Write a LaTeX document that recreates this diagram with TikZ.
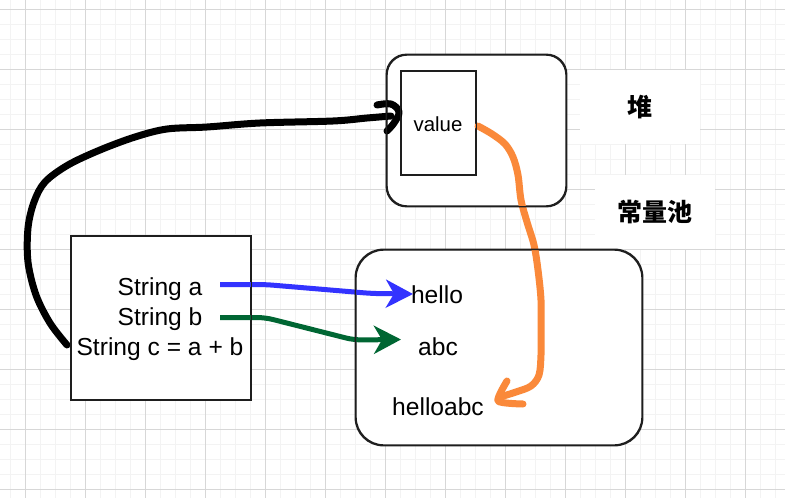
\documentclass[tikz,border=0pt]{standalone}
\usepackage{fontspec}
\setmainfont{Liberation Sans}
\newfontfamily\cjk{Noto Sans CJK SC}
\usetikzlibrary{arrows.meta}
\definecolor{gridminor}{RGB}{243,243,243}
\definecolor{gridmajor}{RGB}{215,215,215}
\definecolor{arrblue}{RGB}{51,51,255}
\definecolor{arrgreen}{RGB}{0,102,51}
\definecolor{arrorange}{RGB}{250,137,58}
\definecolor{edge}{RGB}{30,30,30}
\begin{document}
\begin{tikzpicture}[x=1pt,y=-1pt,
  box/.style={draw=edge, line width=1.4pt, fill=white, inner sep=0pt},
  txt/.style={font=\fontsize{24.6}{30}\selectfont, inner sep=0pt, anchor=base},
  smalltxt/.style={font=\fontsize{20.4}{24}\selectfont, inner sep=0pt, anchor=base},
  cjklabel/.style={font=\cjk\bfseries\fontsize{25}{30}\selectfont, inner sep=0pt},
  patch/.style={fill=white, draw=none, minimum width=120pt, minimum height=74pt, inner sep=0pt},
  ptr/.style={line width=5pt, -{Stealth[length=27pt,width=28pt,inset=8pt]}, rounded corners=8pt},
  pen/.style={line width=7pt, line cap=round, line join=round}]
\useasboundingbox (0,0) rectangle (785,498);
\fill[white] (0,0) rectangle (785,498);
% grid
\foreach \x in {10,25,...,785} \draw[gridminor, line width=1pt] (\x,0) -- (\x,498);
\foreach \y in {9,24,...,498} \draw[gridminor, line width=1pt] (0,\y) -- (785,\y);
\foreach \x in {25,85,...,785} \draw[gridmajor, line width=1pt] (\x,0) -- (\x,498);
\foreach \y in {9,69,...,498} \draw[gridmajor, line width=1pt] (0,\y) -- (785,\y);
% label patches
\node[patch] (heappatch) at (640,107) {};
\node[patch] (poolpatch) at (655,212) {};
\node[cjklabel] (heaplabel) at (640,107) {堆};
\node[cjklabel] (poollabel) at (655,212) {常量池};
% boxes
\node[box, minimum width=180pt, minimum height=164pt] (lbox) at (161,318) {};
\node[box, rounded corners=20pt, minimum width=179pt, minimum height=151pt] (hbox) at (476.5,130.5) {};
\node[box, minimum width=75pt, minimum height=104pt] (vbox) at (438.5,123) {};
\node[box, rounded corners=28pt, minimum width=286pt, minimum height=195pt] (pbox) at (499,347.5) {};
% texts
\node[txt] (sa) at (160,295) {String a};
\node[txt] (sb) at (160,325) {String b};
\node[txt] (sc) at (160,355) {String c = a + b};
\node[smalltxt] (val) at (438,131) {value};
\node[txt] (hello) at (437,303) {hello};
\node[txt] (abc) at (438,355) {abc};
\node[txt] (helloabc) at (438,415) {helloabc};
% pointer arrows
\coordinate (astart) at (220,284.5);
\coordinate (bstart) at (220,317.5);
\coordinate (aend) at (413,294);
\coordinate (bend) at (401,339.5);
\draw[ptr, arrblue] (astart) -- (265,284.5) -- (372,293.5) -- (aend);
\draw[ptr, arrgreen] (bstart) -- (265,317.5) -- (354,340) -- (bend);
% freehand black stroke from String c to value
\coordinate (cstart) at (67,345);
\draw[pen, black] plot[smooth, tension=0.55] coordinates {(cstart) (50,323) (36,295) (28,262) (28,228) (34,202) (45,182) (68,165) (100,150) (135,137) (167,129) (207,127) (260,123) (333,121) (367,118) (391,116)};
\draw[pen, black] plot[smooth, tension=0.6] coordinates {(377,105) (391,104) (399,112) (394,123) (387,131)};
% freehand orange stroke from value to helloabc
\coordinate (ostart) at (478,126);
\draw[pen, arrorange] plot[smooth, tension=0.55] coordinates {(ostart) (492,134) (505,144) (513,157) (518,175) (521,200) (527,222) (534,245) (538,270) (541,300) (541,330) (541,355) (539,375) (531,386) (516,392) (500,397)};
\draw[pen, arrorange] plot[smooth, tension=0.4] coordinates {(507,381) (498,401) (523,404)};
% borders on top
\draw[edge, line width=1.4pt] (lbox.north west) rectangle (lbox.south east);
\draw[edge, line width=1.4pt] (vbox.north west) rectangle (vbox.south east);
\draw[edge, line width=1.4pt, rounded corners=20pt] (hbox.north west) rectangle (hbox.south east);
\draw[edge, line width=1.4pt, rounded corners=28pt] (pbox.north west) rectangle (pbox.south east);
\end{tikzpicture}
\end{document}
